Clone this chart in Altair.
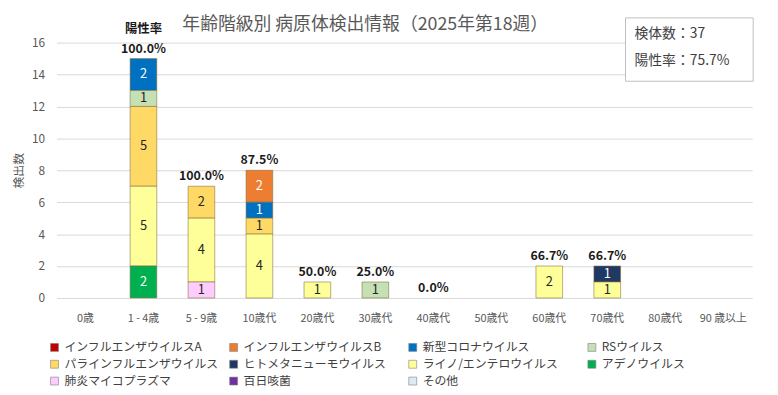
import altair as alt
import pandas as pd

FONT = "Noto Sans CJK JP"

ages = ["0歳", "1 - 4歳", "5 - 9歳", "10歳代", "20歳代", "30歳代", "40歳代",
        "50歳代", "60歳代", "70歳代", "80歳代", "90 歳以上"]

pathogens = ["インフルエンザウイルスA", "インフルエンザウイルスB", "新型コロナウイルス",
             "RSウイルス", "パラインフルエンザウイルス", "ヒトメタニューモウイルス",
             "ライノ/エンテロウイルス", "アデノウイルス", "肺炎マイコプラズマ",
             "百日咳菌", "その他"]
colors = ["#C00000", "#ED7D31", "#0070C0", "#C5E0B4", "#FFD966", "#203864",
          "#FFFF99", "#00B050", "#FFCCFF", "#7030A0", "#DDEBF7"]
dark_fill = [True, True, True, False, False, True, False, True, False, True, False]

flu_a = [0, 0, 0, 0, 0, 0, 0, 0, 0, 0, 0, 0]
flu_b = [0, 0, 0, 2, 0, 0, 0, 0, 0, 0, 0, 0]
covid = [0, 2, 0, 1, 0, 0, 0, 0, 0, 0, 0, 0]
rsv = [0, 1, 0, 0, 0, 1, 0, 0, 0, 0, 0, 0]
para = [0, 5, 2, 1, 0, 0, 0, 0, 0, 0, 0, 0]
hmpv = [0, 0, 0, 0, 0, 0, 0, 0, 0, 1, 0, 0]
rhino = [0, 5, 4, 4, 1, 0, 0, 0, 2, 1, 0, 0]
adeno = [0, 2, 0, 0, 0, 0, 0, 0, 0, 0, 0, 0]
myco = [0, 0, 1, 0, 0, 0, 0, 0, 0, 0, 0, 0]
pertussis = [0, 0, 0, 0, 0, 0, 0, 0, 0, 0, 0, 0]
other = [0, 0, 0, 0, 0, 0, 0, 0, 0, 0, 0, 0]

positive_rate = [None, 100.0, 100.0, 87.5, 50.0, 25.0, 0.0, None, 66.7, 66.7, None, None]

sample_count = 37
overall_rate = 75.7
title_text = "年齢階級別 病原体検出情報（2025年第18週）"
y_ticks = [0, 2, 4, 6, 8, 10, 12, 14, 16]

series = [flu_a, flu_b, covid, rsv, para, hmpv, rhino, adeno, myco, pertussis, other]

rows = []
for i, (name, vals) in enumerate(zip(pathogens, series)):
    for age, v in zip(ages, vals):
        if v > 0:
            rows.append({"age": age, "pathogen": name, "count": v,
                         "stack_idx": len(pathogens) - i,
                         "txtcol": "#FFFFFF" if dark_fill[i] else "#262626"})
df = pd.DataFrame(rows)

totals = [sum(s[j] for s in series) for j in range(len(ages))]
rate_rows = [{"age": a, "total": t, "label": f"{r:.1f}%"}
             for a, t, r in zip(ages, totals, positive_rate) if r is not None]
df_rate = pd.DataFrame(rate_rows)
df_head = pd.DataFrame([{"age": ages[1], "total": totals[1], "label": "陽性率"}])
df_box = pd.DataFrame([{"l1": f"検体数：{sample_count}", "l2": f"陽性率：{overall_rate}%",
                        "title": title_text}])

x_scale = alt.Scale(domain=ages, paddingInner=0.54, paddingOuter=0.27)
y_scale = alt.Scale(domain=[0, 16])

x_axis = alt.Axis(title=None, labelAngle=0, ticks=False, domain=False,
                  labelFontSize=11, labelColor="#595959", labelFont=FONT,
                  labelPadding=15)
y_axis = alt.Axis(values=y_ticks, title="検出数", ticks=False, labelOverlap=False,
                  domain=False, gridColor="#D9D9D9", labelFontSize=12,
                  labelColor="#595959", labelFont=FONT, labelPadding=12,
                  titleFontSize=12, titleColor="#595959", titleFont=FONT,
                  titleFontWeight="normal", titlePadding=6)

x_enc = alt.X("age:N", sort=ages, scale=x_scale, axis=x_axis)


def y_enc(field, **kw):
    return alt.Y(field, scale=y_scale, axis=y_axis, **kw)


bars = alt.Chart(df).mark_bar(stroke="#7F6F3A", strokeWidth=0.7, strokeOpacity=0.8).encode(
    x=x_enc,
    y=y_enc("count:Q", stack="zero"),
    color=alt.Color("pathogen:N", scale=alt.Scale(domain=pathogens, range=colors),
                    legend=alt.Legend(orient="none", legendX=-8, legendY=302,
                                      direction="horizontal", columns=4, gridAlign="all",
                                      title=None, symbolType="square", symbolSize=64,
                                      symbolStrokeColor="#7F7F7F", symbolStrokeWidth=0.6,
                                      labelFontSize=12, labelColor="#404040",
                                      labelFont=FONT, labelLimit=220,
                                      columnPadding=8, rowPadding=5)),
    order=alt.Order("stack_idx:Q", sort="ascending"),
)

seg_text = alt.Chart(df).transform_stack(
    stack="count", groupby=["age"], sort=[alt.SortField("stack_idx", "ascending")],
    as_=["y0", "y1"]
).transform_calculate(mid="(datum.y0 + datum.y1) / 2").mark_text(
    fontSize=13, font=FONT, baseline="middle"
).encode(
    x=x_enc,
    y=y_enc("mid:Q"),
    text="count:Q",
    color=alt.Color("txtcol:N", scale=None),
)

pct = alt.Chart(df_rate).mark_text(fontSize=12.5, fontWeight="bold", font=FONT,
                                   color="#1a1a1a", dy=-10).encode(
    x=x_enc,
    y=y_enc("total:Q"),
    text="label:N",
)

head = alt.Chart(df_head).mark_text(fontSize=12.5, fontWeight="bold", font=FONT,
                                    color="#1a1a1a", dy=-30).encode(
    x=x_enc,
    y=y_enc("total:Q"),
    text="label:N",
)

title = alt.Chart(df_box).mark_text(align="center", baseline="middle", fontSize=18,
                                    font=FONT, color="#595959").encode(
    x=alt.value(312), y=alt.value(-18), text="title:N")

box = alt.Chart(df_box).mark_rect(fill="white", stroke="#BFBFBF", strokeWidth=1).encode(
    x=alt.value(575), x2=alt.value(704), y=alt.value(-25), y2=alt.value(39))
box_t1 = alt.Chart(df_box).mark_text(align="left", baseline="middle", fontSize=14,
                                     font=FONT, color="#404040").encode(
    x=alt.value(584), y=alt.value(-9), text="l1:N")
box_t2 = alt.Chart(df_box).mark_text(align="left", baseline="middle", fontSize=14,
                                     font=FONT, color="#404040").encode(
    x=alt.value(584), y=alt.value(19), text="l2:N")

chart = alt.layer(bars, seg_text, pct, head, title, box, box_t1, box_t2).properties(
    width=703, height=258,
    padding={"left": 49, "top": 33, "right": 18, "bottom": 88},
    autosize=alt.AutoSizeParams(type="none"),
).configure_view(stroke=None)

chart.save("out.html", embed_options={"renderer": "svg", "actions": False})
